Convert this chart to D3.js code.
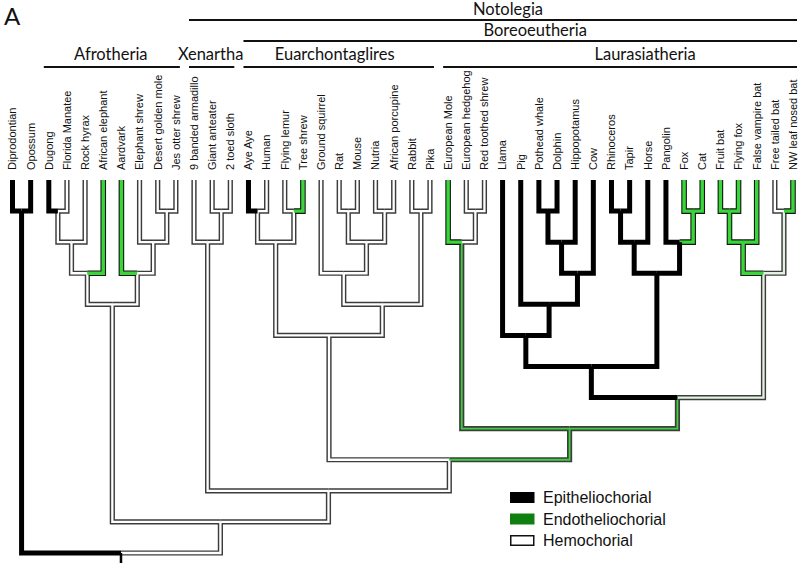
<!DOCTYPE html>
<html><head><meta charset="utf-8">
<script src="https://cdn.jsdelivr.net/npm/d3@7"></script>
<style>body{margin:0;background:#fff}</style>
</head><body>
<svg id="c" width="800" height="565"></svg>
<script>
// ---------- DATA ----------
const leafNames = ["Diprodontian","Opossum","Dugong","Florida Manatee","Rock hyrax","African elephant","Aardvark","Elephant shrew","Desert golden mole","Jes otter shrew","9 banded armadillo","Giant anteater","2 toed sloth","Aye Aye","Human","Flying lemur","Tree shrew","Ground squirrel","Rat","Mouse","Nutria","African porcupine","Rabbit","Pika","European Mole","European hedgehog","Red toothed shrew","Llama","Pig","Pothead whale","Dolphin","Hippopotamus","Cow","Rhinoceros","Tapir","Horse","Pangolin","Fox","Cat","Fruit bat","Flying fox","False vampire bat","Free tailed bat","NW leaf nosed bat"];
// E = epitheliochorial, N = endotheliochorial, H = hemochorial, M / X = ambiguous reconstructions
const leafStates = ["E","E","E","H","H","N","N","H","H","H","H","H","H","E","H","H","N","H","H","H","H","H","H","H","N","H","H","E","E","E","E","E","E","E","E","E","E","N","N","N","N","N","H","N"];
// [clade, child A, child B, state of the branch above the clade]
const clades = [
  ["Marsupialia","Diprodontian","Opossum","E"],
  ["DugMan","Dugong","Florida Manatee","H"],
  ["DugManHyr","DugMan","Rock hyrax","H"],
  ["Paenungulata","DugManHyr","African elephant","H"],
  ["GoldJes","Desert golden mole","Jes otter shrew","H"],
  ["ESGoldJes","Elephant shrew","GoldJes","H"],
  ["Afroinsectiphilia","Aardvark","ESGoldJes","H"],
  ["Afrotheria","Paenungulata","Afroinsectiphilia","H"],
  ["Pilosa","Giant anteater","2 toed sloth","H"],
  ["Xenarthra","9 banded armadillo","Pilosa","H"],
  ["AyeHuman","Aye Aye","Human","H"],
  ["LemurShrew","Flying lemur","Tree shrew","H"],
  ["Euarchonta","AyeHuman","LemurShrew","H"],
  ["RatMouse","Rat","Mouse","H"],
  ["Hystricomorpha","Nutria","African porcupine","H"],
  ["RodCore","RatMouse","Hystricomorpha","H"],
  ["Rodentia","Ground squirrel","RodCore","H"],
  ["Lagomorpha","Rabbit","Pika","H"],
  ["Glires","Rodentia","Lagomorpha","H"],
  ["Euarchontoglires","Euarchonta","Glires","H"],
  ["HedgeShrew","European hedgehog","Red toothed shrew","H"],
  ["Eulipotyphla","European Mole","HedgeShrew","M"],
  ["Delphinoidea","Pothead whale","Dolphin","E"],
  ["Whippomorpha","Delphinoidea","Hippopotamus","E"],
  ["Cetruminantia","Whippomorpha","Cow","E"],
  ["PigEtc","Pig","Cetruminantia","E"],
  ["Cetartiodactyla","Llama","PigEtc","E"],
  ["RhinoTapir","Rhinoceros","Tapir","E"],
  ["Perissodactyla","RhinoTapir","Horse","E"],
  ["Carnivora","Fox","Cat","N"],
  ["Ferae","Pangolin","Carnivora","E"],
  ["Zooamata","Perissodactyla","Ferae","E"],
  ["Fereuungulata","Cetartiodactyla","Zooamata","E"],
  ["Pteropodidae","Fruit bat","Flying fox","N"],
  ["Yinpterochiroptera","Pteropodidae","False vampire bat","N"],
  ["Yangochiroptera","Free tailed bat","NW leaf nosed bat","X"],
  ["Chiroptera","Yinpterochiroptera","Yangochiroptera","X"],
  ["Scrotifera","Fereuungulata","Chiroptera","M"],
  ["Laurasiatheria","Eulipotyphla","Scrotifera","M"],
  ["Boreoeutheria","Euarchontoglires","Laurasiatheria","H"],
  ["XenBoreo","Xenarthra","Boreoeutheria","H"],
  ["Eutheria","Afrotheria","XenBoreo","H"],
  ["Root","Marsupialia","Eutheria",null]
];
const groupLabels = ["Notolegia","Boreoeutheria","Afrotheria","Xenartha","Euarchontaglires","Laurasiatheria"];
const groupSpans = [[10,43],[13,43],[2,9],[10,12],[13,23],[24,43]];
const groupRows = [0,1,2,2,2,2];
const legendLabels = ["Epitheliochorial","Endotheliochorial","Hemochorial"];

// ---------- LAYOUT / STYLE ----------
const W = 800, H = 565;
const rowLineY = [20, 41, 67];
const rowTextY = [15, 36, 60];
const labelShift = [15, 15, -1, -1, -4, 25];
const styles = {
  H: {outer:"#3c3c3c", ow:5.2, inner:"#ffffff", iw:2.3},
  N: {outer:"#151515", ow:5.6, inner:"#38d638", iw:3.4},
  M: {outer:"#3c3c3c", ow:5.2, inner:"#3fcf3f", iw:1.8},
  X: {outer:"#3c3c3c", ow:5.2, inner:"#e2f2e2", iw:2.3}
};

const svg = d3.select("#c");
const x = d3.scaleLinear().domain([0, leafNames.length - 1]).range([12.5, 793]);
const y = d3.scaleLinear().domain([0, 12]).range([180, 553]);

// build hierarchy
const nodes = {};
leafNames.forEach((n, i) => nodes[n] = {name: n, idx: i, state: leafStates[i]});
clades.forEach(([n, a, b, s]) => nodes[n] = {name: n, state: s, children: [nodes[a], nodes[b]]});
const root = d3.hierarchy(nodes[clades[clades.length - 1][0]]);
root.eachAfter(d => {
  d.px = d.children ? (d.children[0].px + d.children[d.children.length - 1].px) / 2 : x(d.data.idx);
  d.py = y(d.height);
});
const branches = root.descendants().filter(d => d.parent);
const pathOf = d => `M${d.px},${d.py}V${d.parent.py}H${d.parent.px}`;

const gTree = svg.append("g").attr("fill", "none").attr("stroke-linejoin", "miter").attr("stroke-linecap", "butt");
const dbl = branches.filter(d => d.data.state !== "E");
gTree.append("g").selectAll("path").data(dbl).join("path")
  .attr("d", pathOf).attr("stroke", d => styles[d.data.state].outer).attr("stroke-width", d => styles[d.data.state].ow);
gTree.append("g").selectAll("path").data(dbl).join("path")
  .attr("d", pathOf).attr("stroke", d => styles[d.data.state].inner).attr("stroke-width", d => styles[d.data.state].iw);
gTree.append("g").selectAll("path").data(branches.filter(d => d.data.state === "E")).join("path")
  .attr("d", pathOf).attr("stroke", "#000").attr("stroke-width", 5);
// root stub
gTree.append("line").attr("x1", root.px).attr("x2", root.px).attr("y1", root.py).attr("y2", root.py + 10)
  .attr("stroke", "#000").attr("stroke-width", 2.5);

// leaf labels
svg.append("g").selectAll("text").data(root.leaves()).join("text")
  .attr("transform", d => `translate(${d.px},170) rotate(-90)`)
  .attr("dy", "0.35em")
  .attr("font-family", "'Liberation Sans', Arial, sans-serif").attr("font-size", 11)
  .attr("fill", "#111")
  .text(d => d.data.name);

// group headers
const gH = svg.append("g");
groupLabels.forEach((lab, i) => {
  const [a, b] = groupSpans[i];
  const x0 = x(a) - 5, x1 = Math.min(x(b) + 4, W - 3);
  const r = groupRows[i];
  gH.append("line").attr("x1", x0).attr("x2", x1).attr("y1", rowLineY[r]).attr("y2", rowLineY[r])
    .attr("stroke", "#111").attr("stroke-width", 2);
  gH.append("text").attr("x", (x0 + x1) / 2 + labelShift[i]).attr("y", rowTextY[r])
    .attr("text-anchor", "middle").attr("font-family", "Lato, 'Open Sans', sans-serif").attr("font-size", 16.5)
    .attr("fill", "#111").text(lab);
});

svg.append("text").attr("x", 4).attr("y", 25).attr("font-family", "Lato, sans-serif").attr("font-size", 24)
  .attr("fill", "#111").text("A");

// legend
const legFill = ["#000", "#0f7f0f", "#fff"];
const lg = svg.append("g").attr("transform", "translate(510,492)");
legendLabels.forEach((lab, i) => {
  lg.append("rect").attr("x", 0.75).attr("y", i * 21.5 + 0.75).attr("width", 23).attr("height", 9.5)
    .attr("fill", legFill[i]).attr("stroke", i === 2 ? "#111" : legFill[i]).attr("stroke-width", 1.5);
  lg.append("text").attr("x", 33).attr("y", i * 21.5 + 5.5).attr("dy", "0.35em")
    .attr("font-family", "'Liberation Sans', Arial, sans-serif").attr("font-size", 16).attr("fill", "#111").text(lab);
});
</script>
</body></html>
